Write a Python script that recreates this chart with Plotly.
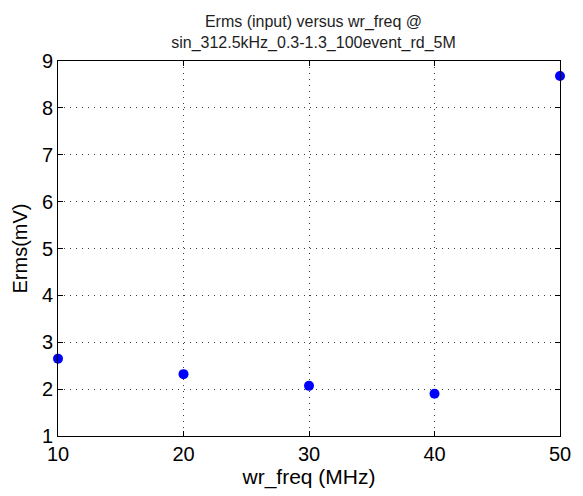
import plotly.graph_objects as go

# Measured RMS noise vs. write-clock frequency
wr_freq_mhz = [10, 20, 30, 40, 50]
erms_mv = [2.65, 2.32, 2.07, 1.90, 8.68]

x_ticks = [10, 20, 30, 40, 50]
y_ticks = [1, 2, 3, 4, 5, 6, 7, 8, 9]

title_text = "Erms (input) versus wr_freq @<br>sin_312.5kHz_0.3-1.3_100event_rd_5M"

FONT = "Liberation Sans, Arial, sans-serif"

fig = go.Figure(
    go.Scatter(
        x=wr_freq_mhz,
        y=erms_mv,
        mode="markers",
        marker=dict(color="rgb(0,0,255)", size=10, symbol="circle"),
        cliponaxis=False,
        showlegend=False,
    )
)

axis_common = dict(
    showline=True,
    linecolor="black",
    linewidth=1,
    mirror="allticks",
    ticks="inside",
    ticklen=5,
    tickcolor="black",
    showgrid=True,
    gridcolor="rgb(60,60,60)",
    griddash="1px,5px",
    gridwidth=1,
    zeroline=False,
    tickfont=dict(family=FONT, size=20, color="black"),
)

fig.update_xaxes(
    range=[10, 50],
    tickvals=x_ticks,
    title=dict(text="wr_freq (MHz)", font=dict(family=FONT, size=21, color="black"), standoff=4),
    **axis_common,
)
fig.update_yaxes(
    range=[1, 9],
    tickvals=y_ticks,
    title=dict(text="Erms(mV)", font=dict(family=FONT, size=20, color="black"), standoff=8),
    **axis_common,
)

fig.update_layout(
    width=583,
    height=496,
    margin=dict(l=58, r=14, t=61, b=54),
    paper_bgcolor="white",
    plot_bgcolor="white",
    title=dict(
        text=title_text,
        font=dict(family=FONT, size=16, color="rgb(30,30,30)"),
        x=(58 + 569) / 2 / 583,
        xanchor="center",
        y=1 - 27 / 496,
        yanchor="middle",
    ),
)

fig.write_html("out.html")
